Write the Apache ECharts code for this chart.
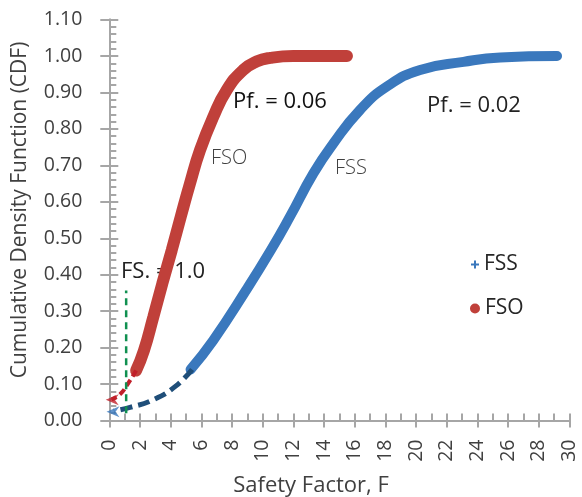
<!DOCTYPE html>
<html><head><meta charset="utf-8">
<script src="https://cdn.jsdelivr.net/npm/echarts@6/dist/echarts.min.js"></script>
<style>html,body{margin:0;padding:0;background:#fff}#c{width:582px;height:497px}</style>
</head><body><div id="c"></div>
<script>
// ---- data ----
const fsoF   = [1.75, 2.26, 2.87, 3.46, 4.07, 4.66, 5.26, 5.92, 6.78, 7.66, 8.74, 9.6, 10.5, 12.0, 14.0, 15.5];
const fsoCDF = [0.137, 0.192, 0.284, 0.376, 0.467, 0.559, 0.650, 0.742, 0.833, 0.907, 0.962, 0.985, 0.995, 1.0, 1.0, 1.0];
const fssF   = [5.3, 6.78, 8.96, 10.53, 11.79, 13.31, 14.61, 16.35, 18.09, 20.27, 23.1, 25.5, 29.2];
const fssCDF = [0.14, 0.22, 0.36, 0.467, 0.56, 0.678, 0.76, 0.852, 0.916, 0.962, 0.984, 0.996, 1.0];
const fsoTailF   = [1.75, 1.2, 0.7, 0.15];
const fsoTailCDF = [0.137, 0.10, 0.072, 0.058];
const fssTailF   = [5.4, 4.35, 2.87, 1.35, 0.3];
const fssTailCDF = [0.14, 0.095, 0.057, 0.036, 0.026];
const arrowTips  = [[-0.2, 0.057], [-0.15, 0.024]];
const fsLineF    = [1.1, 1.1];
const fsLineCDF  = [0.02, 0.357];
const xMin = 0, xMax = 30, xStep = 2;
const yMin = 0, yMax = 1.1, yStep = 0.1;

const zip = (a, b) => a.map((v, i) => [v, b[i]]);
const FONT = '"Open Sans", "Noto Sans", sans-serif';
const AX = '#a6a6a6';
const RED = '#c0403a', BLUE = '#3a78bd';
const arrowPath = 'path://M0,5 L10,0 L7,5 L10,10 Z';
const plusPath = 'path://M3,0H5V3H8V5H5V8H3V5H0V3H3Z';

const chart = echarts.init(document.getElementById('c'), null, {renderer: 'canvas'});
const grid = {left: 109.3, right: 12.7, top: 19.6, bottom: 76.5};
const xBase = {type: 'value', min: xMin, max: xMax, interval: xStep, position: 'bottom', splitLine: {show: false},
  axisLine: {show: true, onZero: false, lineStyle: {color: AX, width: 2}}};
const yBase = {type: 'value', min: yMin, max: yMax, interval: yStep, position: 'left', splitLine: {show: false},
  axisLine: {show: true, onZero: false, lineStyle: {color: AX, width: 2}}};

chart.setOption({
  animation: false,
  grid: grid,
  xAxis: [
    Object.assign({}, xBase, {
      axisTick: {show: true, inside: false, length: 7, lineStyle: {color: AX, width: 2}},
      axisLabel: {rotate: 90, margin: 19, color: '#404040', fontSize: 19.5, fontFamily: FONT}
    }),
    Object.assign({}, xBase, {
      axisTick: {show: true, inside: true, length: 7, lineStyle: {color: AX, width: 2}},
      minorTick: {show: true, splitNumber: 2, length: 7, lineStyle: {color: AX, width: 2}},
      axisLabel: {show: false}
    })
  ],
  yAxis: [
    Object.assign({}, yBase, {
      axisTick: {show: true, inside: false, length: 9, lineStyle: {color: AX, width: 2}},
      axisLabel: {margin: 27, color: '#404040', fontSize: 19.5, fontFamily: FONT, formatter: v => v.toFixed(2)}
    }),
    Object.assign({}, yBase, {
      axisTick: {show: true, inside: true, length: 9, lineStyle: {color: AX, width: 2}},
      minorTick: {show: true, splitNumber: 5, length: 7, lineStyle: {color: AX, width: 2}},
      axisLabel: {show: false}
    })
  ],
  legend: [
    {data: [{name: 'FSS', icon: plusPath}], orient: 'vertical', left: 466, top: 249, itemWidth: 8, itemHeight: 8, itemGap: 10,
     textStyle: {fontSize: 21, color: '#262626', fontFamily: FONT}},
    {data: [{name: 'FSO', icon: 'circle'}], orient: 'vertical', left: 465, top: 293, itemWidth: 10, itemHeight: 10, itemGap: 10,
     textStyle: {fontSize: 21, color: '#262626', fontFamily: FONT}}
  ],
  series: [
    {name: 'FSS', type: 'line', data: zip(fssF, fssCDF), smooth: 0.5, showSymbol: false, color: BLUE,
     lineStyle: {width: 10, color: BLUE, cap: 'round'}, clip: false, z: 3},
    {name: 'FSO', type: 'line', data: zip(fsoF, fsoCDF), smooth: 0.5, showSymbol: false, color: RED,
     lineStyle: {width: 12, color: RED, cap: 'round'}, clip: false, z: 4},
    {name: 'fsoTail', type: 'line', data: zip(fsoTailF, fsoTailCDF), smooth: 0.5, showSymbol: false,
     lineStyle: {width: 4, color: '#c0202a', type: [7, 4]}, clip: false, z: 5},
    {name: 'fssTail', type: 'line', data: zip(fssTailF, fssTailCDF), smooth: 0.5, showSymbol: false,
     lineStyle: {width: 5, color: '#1f4e79', type: [12, 6]}, clip: false, z: 5},
    {name: 'fsLine', type: 'line', data: zip(fsLineF, fsLineCDF), showSymbol: false,
     lineStyle: {width: 2.5, color: '#109050', type: [7, 5]}, clip: false, z: 5},
    {name: 'arrows', type: 'scatter', data: [
        {value: arrowTips[0], symbolOffset: [6, 0], itemStyle: {color: '#c0202a'}},
        {value: arrowTips[1], symbolOffset: [6, 0], itemStyle: {color: '#3a78bd'}}],
     symbol: arrowPath, symbolSize: [13, 11], clip: false, z: 6}
  ],
  graphic: [
    {type: 'text', left: 233, top: 91, style: {text: 'Pf. = 0.06', font: '500 22px ' + FONT, fill: '#111'}},
    {type: 'text', left: 427, top: 95, style: {text: 'Pf. = 0.02', font: '22px ' + FONT, fill: '#222'}},
    {type: 'text', left: 121, top: 261, z: -10, style: {text: 'FS. = 1.0', font: '22px ' + FONT, fill: '#222'}},
    {type: 'text', left: 211, top: 148, style: {text: 'FSO', font: '300 20px ' + FONT, fill: '#404040'}},
    {type: 'text', left: 335, top: 158, style: {text: 'FSS', font: '300 20px ' + FONT, fill: '#404040'}},
    {type: 'text', x: 311, y: 486, style: {text: 'Safety Factor, F', font: '22px ' + FONT, fill: '#404040', align: 'center', verticalAlign: 'middle'}},
    {type: 'text', x: 20, y: 210, rotation: Math.PI / 2, style: {text: 'Cumulative Density Function (CDF)', font: '21px ' + FONT, fill: '#404040', align: 'center', verticalAlign: 'middle'}}
  ]
});
</script></body></html>
